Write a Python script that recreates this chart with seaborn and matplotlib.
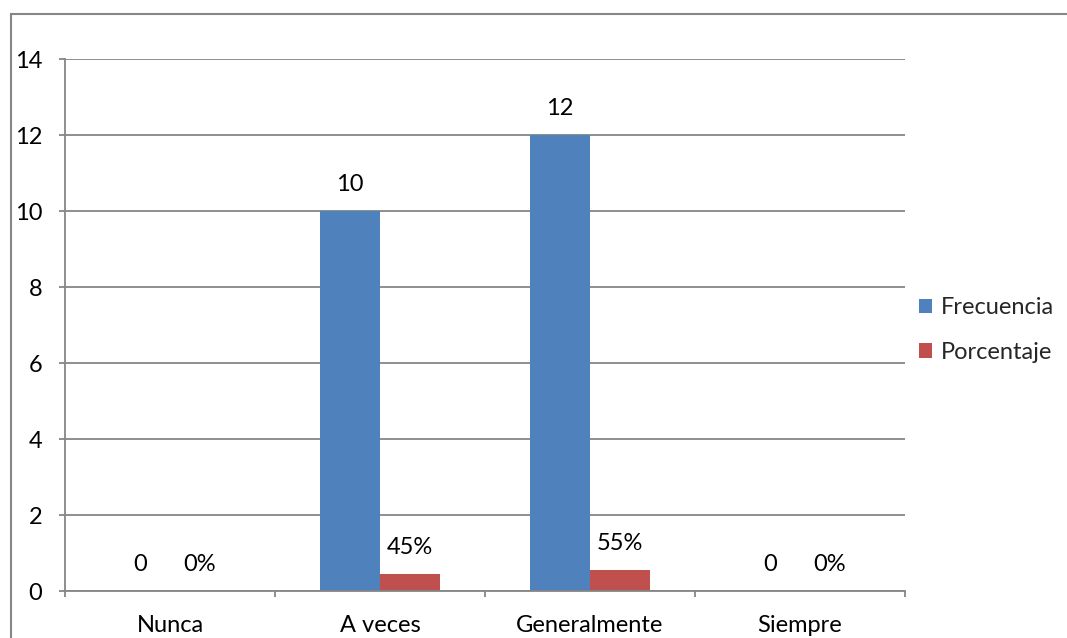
import matplotlib
matplotlib.use("Agg")
import matplotlib.pyplot as plt
import seaborn as sns
import pandas as pd
from matplotlib.patches import Patch, Rectangle
from matplotlib.ticker import FixedLocator

categories = ["Nunca", "A veces", "Generalmente", "Siempre"]
frecuencia = [0, 10, 12, 0]
porcentaje = [0.0, 0.45, 0.55, 0.0]
porcentaje_labels = ["0%", "45%", "55%", "0%"]
series = ["Frecuencia", "Porcentaje"]
colors = ["#4F81BD", "#C0504D"]
y_ticks = [0, 2, 4, 6, 8, 10, 12, 14]

sns.set_theme(style="white")
plt.rcParams["font.family"] = ["Lato", "DejaVu Sans"]

df = pd.DataFrame({
    "cat": categories * 2,
    "serie": [series[0]] * 4 + [series[1]] * 4,
    "valor": frecuencia + porcentaje,
})

W, H = 1067, 638
fig = plt.figure(figsize=(W / 100, H / 100), dpi=100)
ax = fig.add_axes([65 / W, (H - 591) / H, 840 / W, 532 / H])

sns.barplot(data=df, x="cat", y="valor", hue="serie", order=categories,
            hue_order=series, palette=colors, width=0.571, gap=0,
            linewidth=0, saturation=1, errorbar=None, ax=ax, legend=False)

ax.set_xlim(-0.5, 3.5)
ax.set_ylim(0, 14)
ax.set_yticks(y_ticks)
ax.set_yticklabels([str(t) for t in y_ticks])
ax.grid(axis="y", color="#868686", linewidth=1.3)
ax.set_axisbelow(True)
ax.set_xlabel("")
ax.set_ylabel("")
for s in ["top", "right"]:
    ax.spines[s].set_visible(False)
for s in ["left", "bottom"]:
    ax.spines[s].set_color("#868686")
    ax.spines[s].set_linewidth(1.3)

fs = 17
ax.xaxis.set_minor_locator(FixedLocator([-0.5, 0.5, 1.5, 2.5, 3.5]))
ax.tick_params(axis="x", which="major", length=0, pad=17, labelsize=fs, labelcolor="black")
ax.tick_params(axis="x", which="minor", length=4.5, width=1.3, color="#868686", direction="out", bottom=True)
ax.tick_params(axis="y", which="major", length=4.5, width=1.3, color="#868686", direction="out",
               left=True, pad=12, labelsize=fs, labelcolor="black")

# data labels
for i, cont in enumerate(ax.containers):
    labels = [str(v) for v in frecuencia] if i == 0 else porcentaje_labels
    for bar, lab in zip(cont, labels):
        ax.annotate(lab, (bar.get_x() + bar.get_width() / 2, bar.get_height()),
                    xytext=(0, 19), textcoords="offset points",
                    ha="center", va="center", fontsize=fs, color="black")

handles = [Patch(facecolor=c, edgecolor="none") for c in colors]
fig.legend(handles, series, loc="center left", bbox_to_anchor=(907 / W, 1 - 330 / H),
           frameon=False, fontsize=fs, handlelength=0.55, handleheight=0.55,
           handletextpad=0.4, labelspacing=1.0, borderpad=0)

fig.patches.append(Rectangle((10.5 / W, -0.1), 1.2, (H - 14.5) / H + 0.1,
                             transform=fig.transFigure, fill=False,
                             edgecolor="#868686", linewidth=1.5))

fig.savefig("out.png", dpi=100)
